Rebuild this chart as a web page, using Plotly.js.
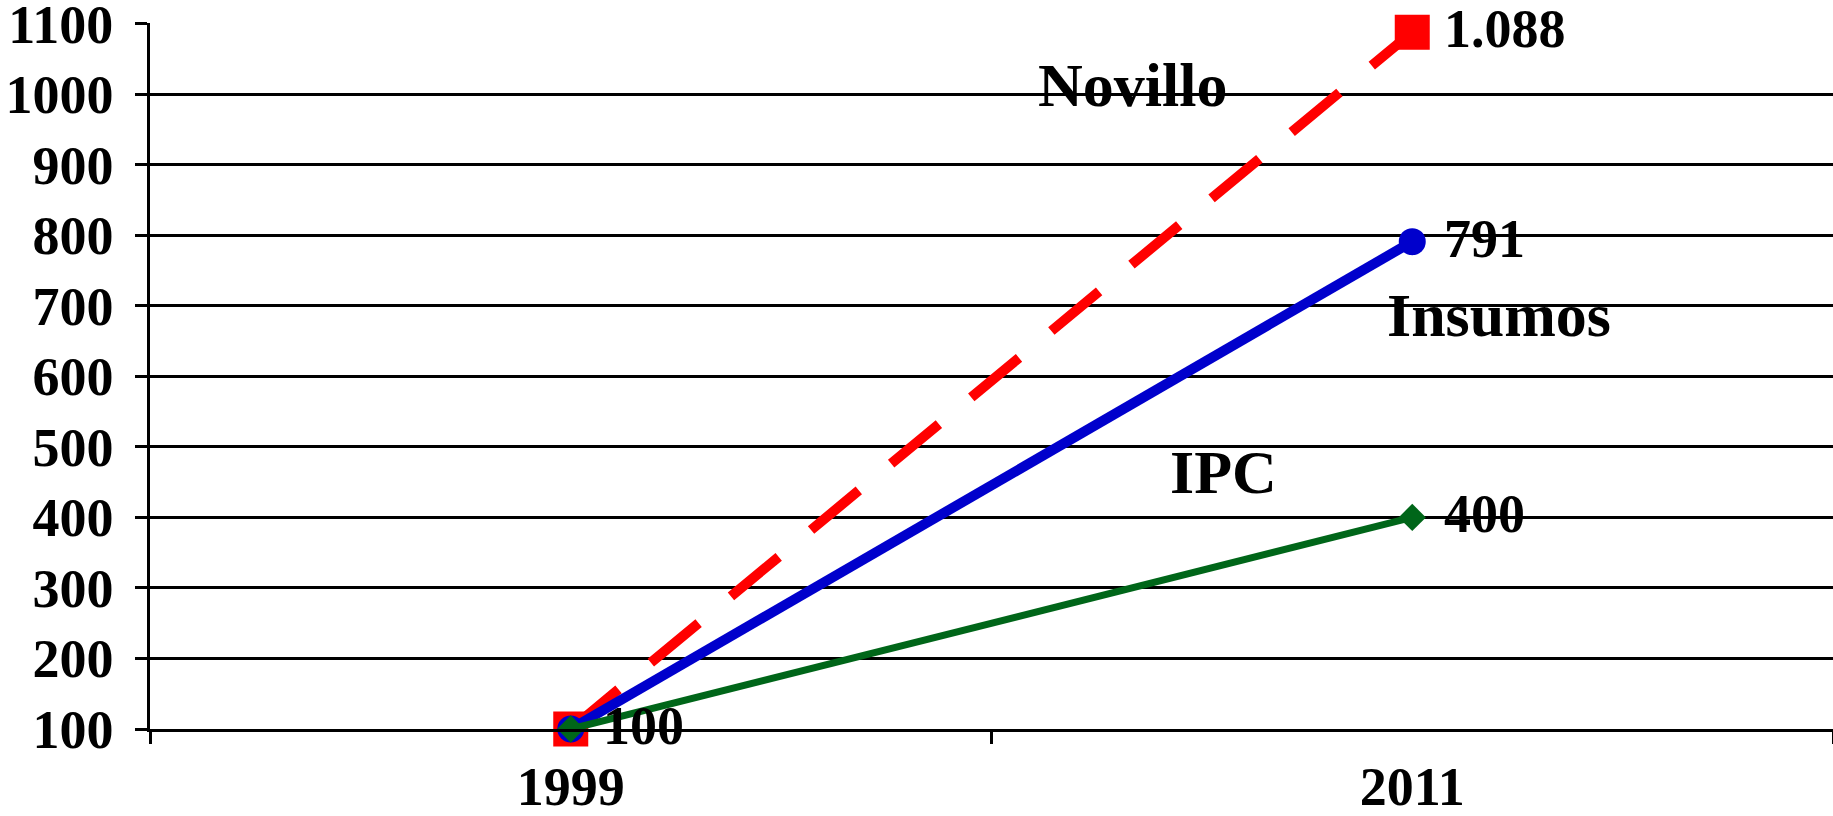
<!DOCTYPE html>
<html>
<head>
<meta charset="utf-8">
<script src="https://cdn.plot.ly/plotly-3.0.1.min.js"></script>
<style>html,body{margin:0;padding:0;background:#fff;}#chart{width:1833px;height:816px;}</style>
</head>
<body>
<div id="chart"></div>
<script>
// Data
const years = ["1999", "2011"];
const novillo = [100, 1088];
const insumos = [100, 791];
const ipc = [100, 400];
const novilloLabels = ["", "1.088"];
const insumosLabels = ["", "791"];
const ipcLabels = ["100", "400"];
const seriesNames = ["Novillo", "Insumos", "IPC"];
const yTicks = [100, 200, 300, 400, 500, 600, 700, 800, 900, 1000, 1100];

const FONT = "Liberation Serif, Times New Roman, serif";

const traces = [
  {x: years, y: novillo, type: "scatter", mode: "lines+markers", name: seriesNames[0], cliponaxis: false,
   line: {color: "#FF0000", width: 10, dash: "62px,42px"},
   marker: {symbol: "square", size: 35, color: "#FF0000"}},
  {x: years, y: insumos, type: "scatter", mode: "lines+markers", name: seriesNames[1], cliponaxis: false,
   line: {color: "#0000CC", width: 10},
   marker: {symbol: "circle", size: 27, color: "#0000CC"}},
  {x: years, y: ipc, type: "scatter", mode: "lines+markers", name: seriesNames[2], cliponaxis: false,
   line: {color: "#006619", width: 7},
   marker: {symbol: "diamond", size: 21, color: "#006619"}}
];

const annotations = [];
function addLabels(vals, labels) {
  vals.forEach((v, i) => {
    if (!labels[i]) return;
    annotations.push({x: i, y: v, xref: "x", yref: "y", text: labels[i],
      showarrow: false, xanchor: "left", yanchor: "middle", xshift: 30, yshift: 3,
      font: {family: FONT, size: 54, color: "#000", weight: "bold"}});
  });
}
addLabels(novillo, novilloLabels);
addLabels(insumos, insumosLabels);
addLabels(ipc, ipcLabels);

const namePos = [[0.584, 1013], [0.8016, 687], [0.638, 465]];
seriesNames.forEach((n, i) => {
  annotations.push({x: namePos[i][0], y: namePos[i][1], xref: "paper", yref: "y", text: n,
    showarrow: false, xanchor: "center", yanchor: "middle",
    font: {family: FONT, size: 62, color: "#000", weight: "bold"}});
});

const layout = {
  width: 1833, height: 816,
  margin: {l: 150, r: 0, t: 23, b: 87, pad: 0},
  paper_bgcolor: "#fff", plot_bgcolor: "#fff",
  showlegend: false,
  font: {family: FONT, size: 54, color: "#000", weight: "bold"},
  xaxis: {type: "category", range: [-0.5, 1.5], tickson: "boundaries",
    ticks: "outside", ticklen: 12, tickwidth: 3, tickcolor: "#000",
    showgrid: false, showline: true, linecolor: "#000", linewidth: 3,
    zeroline: false, ticklabelstandoff: 8, ticklabeloverflow: "allow",
    tickfont: {family: FONT, size: 54, color: "#000", weight: "bold"}},
  yaxis: {range: [100, 1101], tickvals: yTicks, ticktext: yTicks.map(v => v + "\u2009"),
    ticks: "outside", ticklen: 12, tickwidth: 3, tickcolor: "#000",
    showgrid: true, gridcolor: "#000", gridwidth: 3,
    showline: true, linecolor: "#000", linewidth: 3, zeroline: false,
    ticklabelstandoff: 0, ticklabeloverflow: "allow",
    tickfont: {family: FONT, size: 54, color: "#000", weight: "bold"}},
  annotations: annotations
};

Plotly.newPlot("chart", traces, layout, {displayModeBar: false, staticPlot: true});
</script>
</body>
</html>
